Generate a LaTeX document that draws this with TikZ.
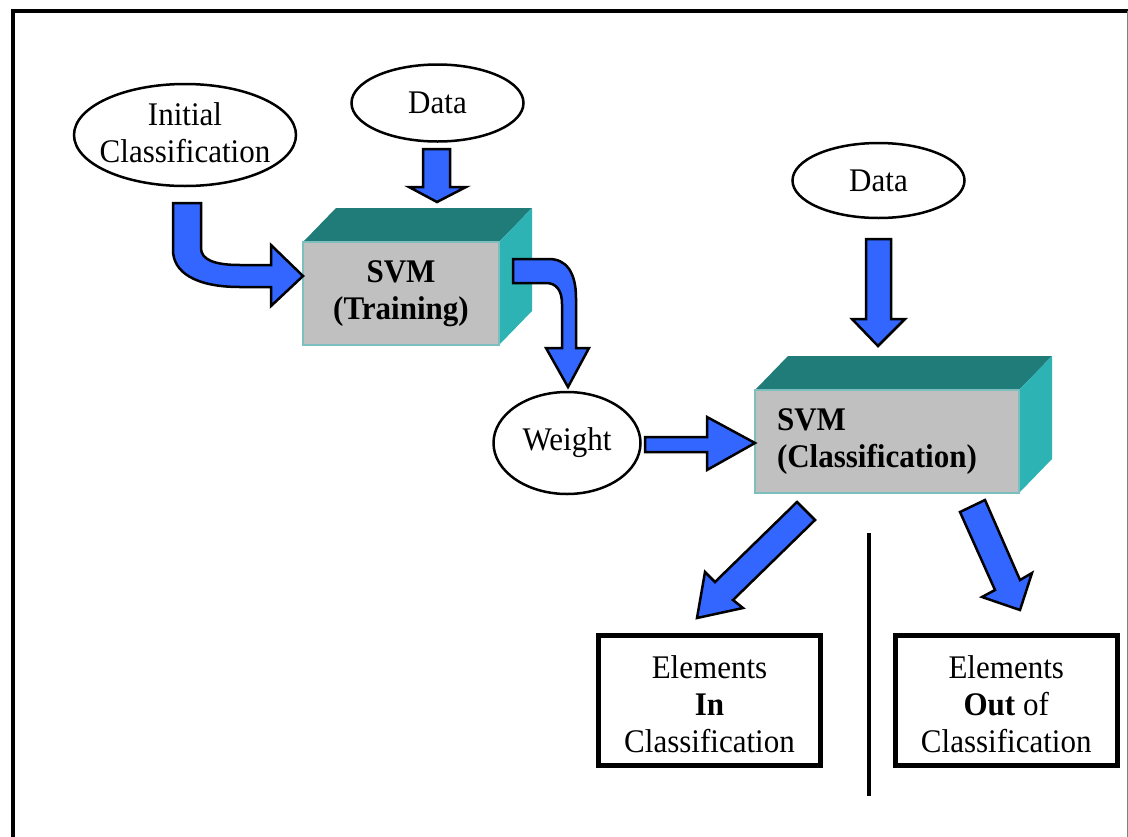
\documentclass[tikz,border=0pt]{standalone}
\usepackage{fontspec}
\setmainfont[FakeStretch=0.94]{Liberation Serif}
\usetikzlibrary{calc,backgrounds,shapes.geometric}
\definecolor{arrowblue}{RGB}{51,102,255}
\definecolor{topteal}{RGB}{32,124,121}
\definecolor{sideteal}{RGB}{45,179,179}
\definecolor{frontgray}{RGB}{192,192,192}
\definecolor{edgeteal}{RGB}{125,190,190}
\begin{document}
\begin{tikzpicture}[x=1pt,y=-1pt,
  txt/.style={font=\fontsize{33}{37}\selectfont, align=center, inner sep=0},
  oval/.style={draw, ellipse, line width=2.5pt, fill=white, inner sep=0, outer sep=0, font=\fontsize{33}{37}\selectfont},
  blockarrow/.style={draw=black, fill=arrowblue, line width=2.5pt, line join=miter},
  frontface/.style={draw=edgeteal, fill=frontgray, line width=2pt, inner sep=0, outer sep=0, font=\fontsize{33}{37}\selectfont\bfseries},
  resultbox/.style={draw, line width=5pt, inner sep=0, minimum width=222, minimum height=130},
  divider/.style={line width=4.5pt},
  frame/.style={line width=4pt}
]
\useasboundingbox (0,0) rectangle (1128,836);

% frame
\coordinate (fBL) at (12.8,845);
\coordinate (fTL) at (12.8,11.3);
\coordinate (fTR) at (1135,11.3);
\draw[frame] (fBL) -- (fTL) -- (fTR);
\coordinate (rTop) at (1127.5,11);
\coordinate (rBot) at (1127.5,840);
\draw[line width=1pt, gray] (rTop) -- (rBot);

% ellipses
\node[oval, minimum width=222, minimum height=102] (init) at (185,135) {};
\node[txt] (initTxt) at (185,132.5) {Initial\\Classification};
\node[oval, minimum width=172, minimum height=77] (data1) at (437.5,103) {Data};
\node[oval, minimum width=172, minimum height=75] (data2) at (878.5,180.5) {Data};
\node[oval, minimum width=147, minimum height=102] (weight) at (567,443) {Weight};

% SVM boxes
\node[frontface, minimum width=196, minimum height=103, align=center] (train) at (401,293.5) {SVM\\(Training)};
\node[frontface, minimum width=264, minimum height=103, text width=220, align=left, inner xsep=22] (classif) at (887,441.5) {SVM\\(Classification)};
\begin{scope}[on background layer]
  \fill[topteal] (train.north west) -- ++(33,-34) -- ($(train.north east)+(33,-34)$) -- (train.north east) -- cycle;
  \fill[sideteal] (train.north east) -- ++(33,-34) -- ($(train.south east)+(33,-34)$) -- (train.south east) -- cycle;
  \fill[topteal] (classif.north west) -- ++(33,-34) -- ($(classif.north east)+(33,-34)$) -- (classif.north east) -- cycle;
  \fill[sideteal] (classif.north east) -- ++(33,-34) -- ($(classif.south east)+(33,-34)$) -- (classif.south east) -- cycle;
\end{scope}

% result boxes
\node[resultbox] (inBox) at (709.5,700.5) {};
\node[txt] (inTxt) at (709.5,704) {Elements\\\textbf{In}\\Classification};
\node[resultbox] (outBox) at (1006.25,700.5) {};
\node[txt] (outTxt) at (1006.25,704) {Elements\\\textbf{Out} of\\Classification};

% divider
\coordinate (divTop) at (869,533);
\coordinate (divBot) at (869,796);
\draw[divider] (divTop) -- (divBot);

% block arrows
% Initial Classification -> SVM (Training)
\draw[blockarrow] (173,203) -- (201,203) -- (201,248)
  .. controls (201,260) and (215,265) .. (240,265) -- (271,265) -- (271,245)
  -- (303,276) -- (271,306) -- (271,287) -- (240,287)
  .. controls (195,287) and (173,272) .. (173,250) -- cycle;
% Data -> SVM (Training)
\draw[blockarrow] (423,149) -- (450,149) -- (450,187) -- (466,187) -- (437,202) -- (409,187) -- (423,187) -- cycle;
% SVM (Training) -> Weight
\draw[blockarrow] (513,259) -- (549,259)
  .. controls (566,259) and (576,272) .. (576,298) -- (576,348) -- (589,348)
  -- (568,387) -- (546,348) -- (562,348) -- (562,304)
  .. controls (562,290) and (556,283) .. (546,283) -- (513,283) -- cycle;
% Data -> SVM (Classification)
\draw[blockarrow] (866,239) -- (891,239) -- (891,319) -- (905,319) -- (878,346) -- (852,319) -- (866,319) -- cycle;
% Weight -> SVM (Classification)
\draw[blockarrow] (645,437) -- (707,437) -- (707,417) -- (755,443) -- (707,470) -- (707,452) -- (645,452) -- cycle;
% SVM (Classification) -> Elements In
\draw[blockarrow] (797,502) -- (815,520) -- (733,600) -- (743,608) -- (697,618) -- (705,572) -- (715,582) -- cycle;
% SVM (Classification) -> Elements Out
\draw[blockarrow] (985,500) -- (1020,580) -- (1032,573) -- (1020,610) -- (982,597) -- (995,590) -- (960,512) -- cycle;
\end{tikzpicture}
\end{document}
